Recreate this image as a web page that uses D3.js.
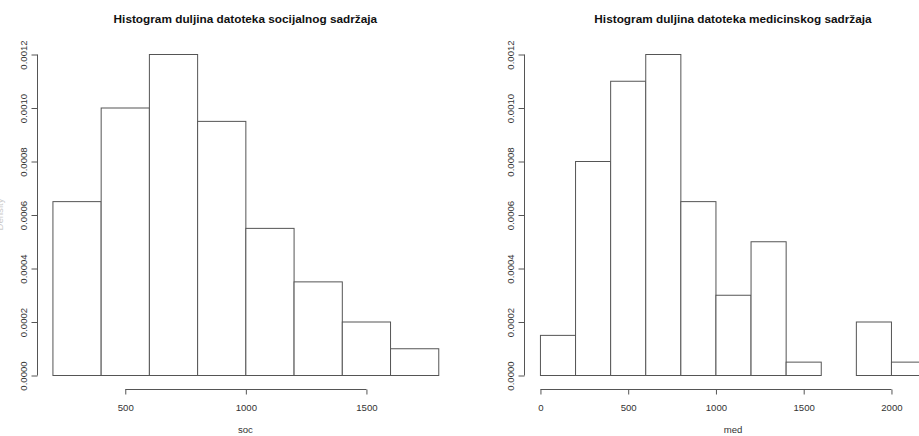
<!DOCTYPE html>
<html><head><meta charset="utf-8">
<script src="https://cdn.jsdelivr.net/npm/d3@7"></script>
<style>body{margin:0;background:#fff;overflow:hidden}svg{display:block}</style>
</head><body>
<svg id="c" width="919" height="436"></svg>
<script>
// Bin edges (start of each bin, width 200) and densities
const socBinStarts = [200, 400, 600, 800, 1000, 1200, 1400, 1600];
const socDensity   = [0.00065, 0.0010, 0.0012, 0.00095, 0.00055, 0.00035, 0.0002, 0.0001];
const medBinStarts = [0, 200, 400, 600, 800, 1000, 1200, 1400, 1600, 1800, 2000];
const medDensity   = [0.00015, 0.0008, 0.0011, 0.0012, 0.00065, 0.0003, 0.0005, 0.00005, 0, 0.0002, 0.00005];
const binWidth = 200;
const socXTicks = [500, 1000, 1500];
const medXTicks = [0, 500, 1000, 1500, 2000];
const yTicks = [0, 0.0002, 0.0004, 0.0006, 0.0008, 0.0010, 0.0012];
const titles = ["Histogram duljina datoteka socijalnog sadržaja", "Histogram duljina datoteka medicinskog sadržaja"];
const xLabels = ["soc", "med"];

const svg = d3.select("#c");
const font = "Liberation Sans, Arial, sans-serif";

function panel(opts) {
  const {starts, dens, xTicks, title, xlab, xDom, xRange, yAxisX, showYlab} = opts;
  const x = d3.scaleLinear().domain(xDom).range(xRange);
  const y = d3.scaleLinear().domain([0, 0.0012]).range([375, 54]);
  const g = svg.append("g");
  g.selectAll("rect").data(starts.map((s, i) => ({s, d: dens[i]})))
    .enter().append("rect")
    .attr("x", d => x(d.s) + 0.5)
    .attr("y", d => y(d.d) + 0.5)
    .attr("width", d => x(d.s + binWidth) - x(d.s))
    .attr("height", d => y(0) - y(d.d))
    .attr("fill", "#fff").attr("stroke", "#555").attr("stroke-width", 1);
  const xa = g.append("g").attr("transform", "translate(0.5,389.5)")
    .call(d3.axisBottom(x).tickValues(xTicks).tickSize(5).tickSizeOuter(0).tickPadding(10).tickFormat(d3.format("d")));
  xa.select(".domain").attr("d", `M${x(xTicks[0])},0H${x(xTicks[xTicks.length-1])}`).attr("stroke", "#555");
  xa.selectAll(".tick line").attr("stroke", "#555");
  xa.selectAll("text").attr("font-family", font).attr("font-size", 9.6).attr("fill", "#333");
  const ya = g.append("g").attr("transform", `translate(${yAxisX + 0.5},0.5)`)
    .call(d3.axisLeft(y).tickValues(yTicks).tickSize(6).tickSizeOuter(0).tickFormat(d3.format(".4f")));
  ya.select(".domain").attr("d", `M0,${y(0)}V${y(0.0012)}`).attr("stroke", "#555");
  ya.selectAll(".tick line").attr("stroke", "#555");
  ya.selectAll("text").attr("font-family", font).attr("font-size", 9.6).attr("fill", "#333")
    .attr("text-anchor", "middle").attr("dy", null).attr("x", null)
    .attr("transform", "translate(-11,0) rotate(-90)").attr("y", 0);
  const cx = (xRange[0] + xRange[1]) / 2;
  g.append("text").attr("x", cx).attr("y", 23).attr("text-anchor", "middle")
    .attr("font-family", font).attr("font-weight", "bold").attr("font-size", 11.8).attr("fill", "#111").text(title);
  g.append("text").attr("x", cx).attr("y", 433).attr("text-anchor", "middle")
    .attr("font-family", font).attr("font-size", 9.6).attr("fill", "#333").text(xlab);
  if (showYlab) {
    g.append("text").attr("transform", `translate(${yAxisX - 34},${(y(0)+y(0.0012))/2}) rotate(-90)`)
      .attr("text-anchor", "middle").attr("font-family", font).attr("font-size", 9.6).attr("fill", "#ccc").text("Density");
  }
}

panel({starts: socBinStarts, dens: socDensity, xTicks: socXTicks, title: titles[0], xlab: xLabels[0],
  xDom: [136, 1864], xRange: [37, 453.7], yAxisX: 37, showYlab: true});
panel({starts: medBinStarts, dens: medDensity, xTicks: medXTicks, title: titles[1], xlab: xLabels[1],
  xDom: [-88, 2288], xRange: [524.5, 941.5], yAxisX: 524, showYlab: false});
</script>
</body></html>
